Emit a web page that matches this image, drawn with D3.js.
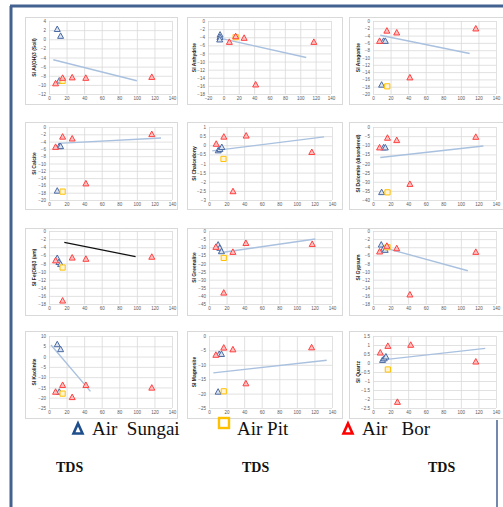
<!DOCTYPE html>
<html>
<head>
<meta charset="utf-8">
<script src="https://cdn.jsdelivr.net/npm/d3@7"></script>
<style>
  body { margin: 0; background: #fff; }
  svg { display: block; }
</style>
</head>
<body>
<svg id="chart" width="503" height="507"></svg>
<script>
///////////////////////////////////////////////////////////////////////////////
// Data (TDS vs saturation index)

var minerals = ["SI Al(OH)3 (Soil)", "SI Anhydrite", "SI Aragonite",
                "SI Calcite", "SI Chalcedony", "SI Dolomite (disordered)",
                "SI Fe(OH)3 (am)", "SI Greenalite", "SI Gypsum",
                "SI Kaolinite", "SI Magnesite", "SI Quartz"];

var xTicks = [
  [0, 20, 40, 60, 80, 100, 120, 140],
  [-20, 0, 20, 40, 60, 80, 100, 120, 140],
  [0, 20, 40, 60, 80, 100, 120, 140],
  [0, 20, 40, 60, 80, 100, 120, 140],
  [0, 20, 40, 60, 80, 100, 120, 140],
  [0, 20, 40, 60, 80, 100, 120, 140],
  [0, 20, 40, 60, 80, 100, 120, 140],
  [0, 20, 40, 60, 80, 100, 120, 140],
  [0, 20, 40, 60, 80, 100, 120, 140],
  [0, 20, 40, 60, 80, 100, 120, 140],
  [0, 20, 40, 60, 80, 100, 120, 140],
  [0, 20, 40, 60, 80, 100, 120, 140]
];

var yTicks = [
  [4, 2, 0, -2, -4, -6, -8, -10, -12],
  [0, -2, -4, -6, -8, -10, -12, -14, -16, -18],
  [0, -2, -4, -6, -8, -10, -12, -14, -16, -18, -20],
  [0, -2, -4, -6, -8, -10, -12, -14, -16, -18, -20],
  [1, 0.5, 0, -0.5, -1, -1.5, -2, -2.5, -3],
  [0, -5, -10, -15, -20, -25, -30, -35, -40],
  [0, -2, -4, -6, -8, -10, -12, -14, -16, -18],
  [0, -5, -10, -15, -20, -25, -30, -35, -40, -45],
  [0, -2, -4, -6, -8, -10, -12, -14, -16, -18],
  [10, 5, 0, -5, -10, -15, -20, -25],
  [0, -5, -10, -15, -20, -25],
  [1.5, 1, 0.5, 0, -0.5, -1, -1.5, -2, -2.5]
];

// Air Sungai [TDS, SI]
var airSungai = [
  [[9.4, 2.2], [13.2, 0.7], [11.7, -9.1]],
  [[-4.3, -3.4], [-4.5, -4.0], [-4.8, -4.6]],
  [[12, -5.5], [14, -5.5], [9.8, -17.5]],
  [[11.7, -5.3], [13.2, -5.3], [9.4, -17.5]],
  [[10.5, -0.29], [12.4, -0.22], [14.6, -0.11]],
  [[12, -11.3], [14, -11.3], [9.8, -35.8]],
  [[9.4, -6.7], [11.3, -7.7], [13.2, -8.2]],
  [[10.4, -8.5], [12.3, -10.5], [14.2, -12.6]],
  [[9.4, -3.4], [12, -4.4], [13.9, -4.7]],
  [[9.4, 5.9], [13.2, 3.5], [11.7, -17.2]],
  [[11.6, -6.3], [14.2, -6.3], [10.4, -19.4]],
  [[10.9, 0.16], [12.8, 0.25], [14.7, 0.35]]
];

// Air Pit [TDS, SI]
var airPit = [
  [15.5, -9.1], [16, -4.0], [16.2, -17.9], [15.5, -17.7],
  [16.5, -0.75], [16.5, -35.8], [15.5, -9.0], [16.8, -16.6],
  [16.5, -4.0], [15.5, -18], [16.8, -19.2], [16.9, -0.36]
];

// Air Bor [TDS, SI]
var airBor = [
  [[7.5, -9.7], [15.5, -8.5], [26.4, -8.4], [41.9, -8.5], [117, -8.3]],
  [[7.8, -5.2], [16, -3.8], [27, -4.2], [42, -15.7], [117.7, -5.2]],
  [[7.5, -5.5], [15.8, -2.7], [27, -3.2], [42, -15.5], [117, -2.1]],
  [[7.5, -5.5], [15.5, -2.7], [26.4, -3.2], [42, -15.5], [117, -2.0]],
  [[8.2, 0.07], [16.9, 0.46], [27.3, -2.53], [42.3, 0.52], [117, -0.38]],
  [[7.5, -11.3], [16.5, -6], [27, -7.3], [42, -31.3], [117, -5.5]],
  [[7.5, -7.3], [15.5, -17.2], [26.4, -6.6], [42, -6.9], [117, -6.4]],
  [[7.8, -9.9], [16.8, -38.1], [27.2, -13], [42, -7.5], [117.5, -8.1]],
  [[7.5, -5.1], [15.8, -3.7], [27, -4.3], [42, -15.7], [117, -5.2]],
  [[7.5, -17.2], [15.5, -13.9], [26.4, -19.8], [42, -13.9], [117, -15.2]],
  [[7.8, -6.6], [16.8, -4.1], [27.2, -4.7], [42, -16.5], [116.8, -4.0]],
  [[8.3, 0.57], [16.9, 0.94], [27.8, -2.17], [42.9, 1.0], [117, 0.07]]
];

// trendline end points [x1, y1, x2, y2]
var trends = [
  [4.9, -4.5, 100, -9.1],
  [-3.4, -4.3, 107.8, -9.0],
  [8.3, -3.9, 110, -8.9],
  [10.6, -4.5, 127.5, -3.0],
  [3.7, -0.31, 131, 0.46],
  [8.3, -16.7, 125.6, -10.4],
  [17.4, -2.8, 98.5, -6.3],
  [10.4, -13.6, 121, -4.9],
  [12, -4.1, 108, -9.8],
  [2.3, 5.6, 47.2, -16.9],
  [4.9, -12.8, 134, -8.4],
  [8.3, 0.16, 127.8, 0.81]
];

var legendNames = ["Air  Sungai", "Air Pit", "Air   Bor"];
var axisTitle = "TDS";

///////////////////////////////////////////////////////////////////////////////
// Layout

var cols = [
  { left: 25, right: 177, x0: 49, x1: 172 },
  { left: 187, right: 342, x0: 209, x1: 332 },
  { left: 349, right: 503, x0: 373, x1: 496 }
];
var rows = [
  { top: 17, bottom: 104, y0: 21, y1: 94 },
  { top: 122, bottom: 209, y0: 127, y1: 200 },
  { top: 228, bottom: 315, y0: 231, y1: 304 },
  { top: 331, bottom: 418, y0: 336, y1: 408 }
];

var svg = d3.select("#chart");
var frameColor = "#44628f";

// outer frame (left + top, right edge peeks out below the panels)
svg.append("line").attr("x1", 11).attr("y1", 6).attr("x2", 11).attr("y2", 507)
  .attr("stroke", frameColor).attr("stroke-width", 3);
svg.append("line").attr("x1", 10).attr("y1", 6).attr("x2", 503).attr("y2", 6)
  .attr("stroke", frameColor).attr("stroke-width", 3);
svg.append("line").attr("x1", 497).attr("y1", 420).attr("x2", 497).attr("y2", 507)
  .attr("stroke", frameColor).attr("stroke-width", 1.5);

var triPath = "M0,-3.2 L3,2.3 L-3,2.3 Z";
var sqPath = "M-2.6,-2.6 H2.6 V2.6 H-2.6 Z";

minerals.forEach(function (title, i) {
  var c = cols[i % 3], r = rows[Math.floor(i / 3)];
  var xt = xTicks[i], yt = yTicks[i];

  var x = d3.scaleLinear().domain([xt[0], xt[xt.length - 1]]);
  if (i === 1) x.range([c.x0 - 1, c.x1 - 1]);
  else x.range([c.x0, c.x1]);
  var y = d3.scaleLinear().domain([yt[yt.length - 1], yt[0]]).range([r.y1, r.y0]);

  var g = svg.append("g");

  g.append("rect")
    .attr("x", c.left + 0.5).attr("y", r.top + 0.5)
    .attr("width", c.right - c.left).attr("height", r.bottom - r.top)
    .attr("fill", "#fff").attr("stroke", "#d9d9d9");

  // gridlines
  var yAxis = d3.axisLeft(y).tickValues(yt).tickSize(-(x.range()[1] - x.range()[0]))
    .tickPadding(3).tickFormat(function (d) { return d3.format("")(d); });
  var ya = g.append("g").attr("transform", "translate(" + x.range()[0] + ",0)").call(yAxis);

  var xAxis = d3.axisBottom(x).tickValues(xt).tickSize(-(r.y1 - r.y0)).tickPadding(3);
  var xa = g.append("g").attr("transform", "translate(0," + r.y1 + ")").call(xAxis);

  [ya, xa].forEach(function (a) {
    a.select(".domain").remove();
    a.selectAll(".tick line").attr("stroke", "#d9d9d9").attr("stroke-width", 0.8);
    a.selectAll(".tick text").attr("fill", "#595959")
      .style("font", "4.5px 'Liberation Sans', Arial, sans-serif");
  });
  ya.selectAll(".tick text").attr("dy", "0.35em");

  // axis title
  g.append("text")
    .attr("transform", "translate(" + (c.x0 - 13) + "," + ((r.y0 + r.y1) / 2) + ") rotate(-90)")
    .attr("text-anchor", "middle")
    .style("font", "bold 5px 'Liberation Sans', Arial, sans-serif")
    .attr("fill", "#222")
    .text(title);

  // trendline
  var t = trends[i];
  g.append("line")
    .attr("x1", x(t[0])).attr("y1", y(t[1]))
    .attr("x2", x(t[2])).attr("y2", y(t[3]))
    .attr("stroke", i === 6 ? "#111" : "#a9c1df")
    .attr("stroke-width", i === 6 ? 1.2 : 1.4);

  g.selectAll("path.sungai").data(airSungai[i]).enter().append("path")
    .attr("d", triPath)
    .attr("transform", function (d) { return "translate(" + x(d[0]) + "," + y(d[1]) + ")"; })
    .attr("fill", "#dbe3f0").attr("stroke", "#4a6aa3").attr("stroke-width", 1);

  g.selectAll("path.pit").data([airPit[i]]).enter().append("path")
    .attr("d", sqPath)
    .attr("transform", function (d) { return "translate(" + x(d[0]) + "," + y(d[1]) + ")"; })
    .attr("fill", "#fff5d6").attr("stroke", "#ffc000").attr("stroke-width", 1);

  g.selectAll("path.bor").data(airBor[i]).enter().append("path")
    .attr("d", triPath)
    .attr("transform", function (d) { return "translate(" + x(d[0]) + "," + y(d[1]) + ")"; })
    .attr("fill", "#ffc2c2").attr("stroke", "#ff4040").attr("stroke-width", 1);
});

///////////////////////////////////////////////////////////////////////////////
// Legend

var legendX = [73, 218, 343];
var legend = svg.append("g")
  .style("font", "19px 'Liberation Serif', 'Times New Roman', serif")
  .style("white-space", "pre");

legend.append("path").attr("d", "M78,423.5 L82.5,433.5 L73.5,433.5 Z")
  .attr("fill", "none").attr("stroke", "#1f4e8c").attr("stroke-width", 2.6);
legend.append("rect").attr("x", 219).attr("y", 418).attr("width", 10).attr("height", 10)
  .attr("fill", "none").attr("stroke", "#ffc000").attr("stroke-width", 2.4);
legend.append("path").attr("d", "M348,423.5 L352.5,433.5 L343.5,433.5 Z")
  .attr("fill", "none").attr("stroke", "#ff0000").attr("stroke-width", 2.6);

legendNames.forEach(function (name, i) {
  legend.append("text").attr("x", legendX[i] + 19).attr("y", 435)
    .attr("xml:space", "preserve").attr("fill", "#111").text(name);
});

[56, 242, 428].forEach(function (px) {
  svg.append("text").attr("x", px).attr("y", 472)
    .style("font", "bold 14px 'Liberation Serif', 'Times New Roman', serif")
    .attr("fill", "#111").text(axisTitle);
});
</script>
</body>
</html>
